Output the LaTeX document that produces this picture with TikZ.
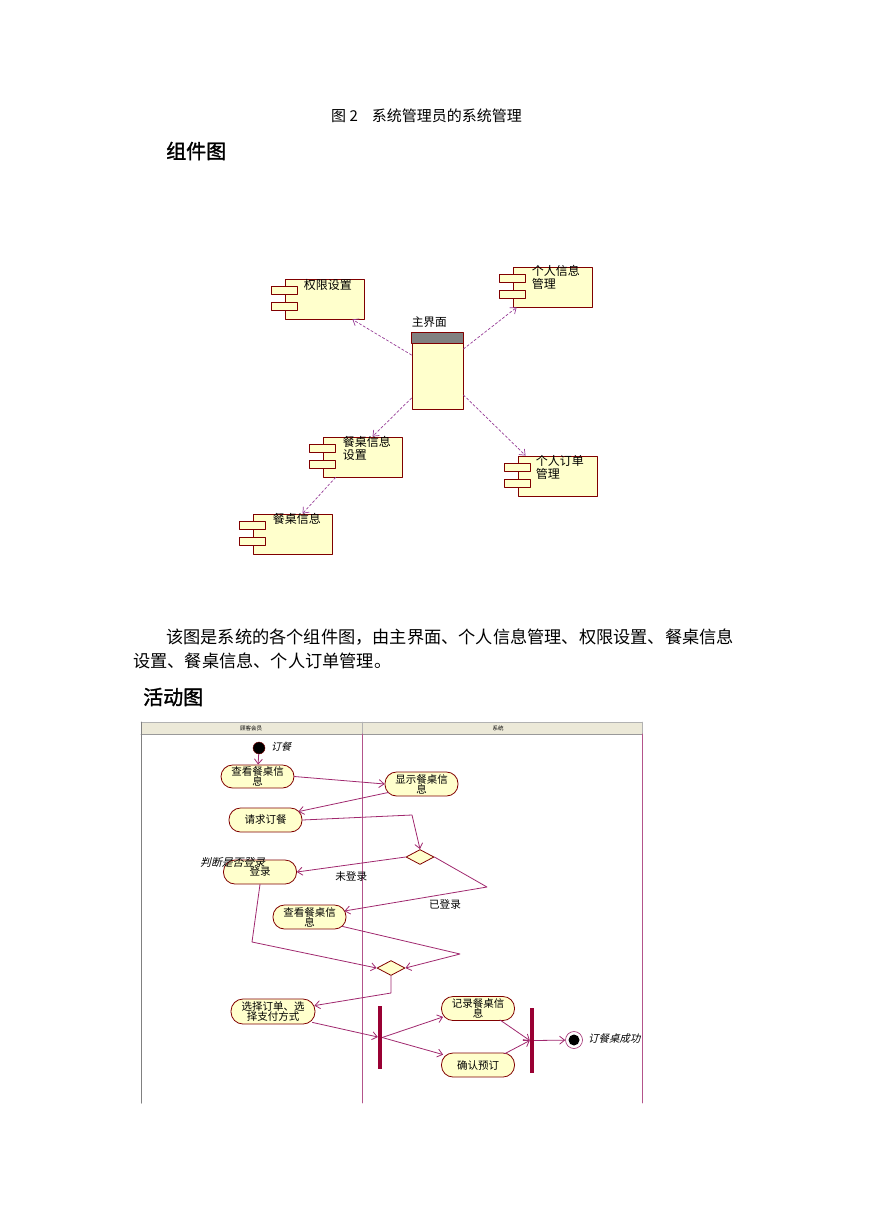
\documentclass[tikz,border=0pt]{standalone}
\usepackage{fontspec}
\setmainfont{Noto Sans CJK SC}
\newfontfamily\headfont[FakeBold=1.5]{Noto Sans CJK SC}
\newfontfamily\slantfont[FakeSlant=0.25]{Noto Sans CJK SC}
\usetikzlibrary{arrows.meta,shapes.geometric}
\definecolor{boxfill}{RGB}{255,255,204}
\definecolor{boxline}{RGB}{128,0,0}
\definecolor{flow}{RGB}{160,40,110}
\definecolor{depcol}{RGB}{150,60,150}
\definecolor{barred}{RGB}{153,0,51}
\definecolor{lanehead}{RGB}{236,233,216}
\begin{document}
\begin{tikzpicture}[x=1pt, y=-1pt, line join=round, line cap=round, >={Straight Barb[length=5pt,width=8pt]},
  comp/.style={draw=boxline, fill=boxfill, line width=0.9pt, minimum width=79pt, minimum height=40pt, inner sep=0pt},
  port/.style={draw=boxline, fill=boxfill, line width=0.8pt, minimum width=26pt, minimum height=8pt, inner sep=0pt},
  ctext/.style={anchor=north west, inner sep=0pt, align=left, font=\fontsize{12}{13}\selectfont},
  depline/.style={->, draw=depcol, line width=0.7pt, dash pattern=on 2.5pt off 2pt},
  act/.style={draw=boxline, fill=boxfill, line width=0.8pt, rounded corners=11.5pt, minimum width=73pt, minimum height=24pt, inner sep=1pt, align=center, font=\fontsize{10.5}{10}\selectfont},
  choice/.style={diamond, draw=boxline, fill=boxfill, line width=0.8pt, aspect=1.9, minimum width=28pt, minimum height=15pt, inner sep=0pt},
  bar/.style={fill=barred, minimum width=4pt, inner sep=0pt},
  flowline/.style={->, draw=flow, line width=0.8pt},
  note/.style={inner sep=0pt, font=\slantfont\fontsize{10}{10}\selectfont}]
\useasboundingbox (0,0) rectangle (869,1228);
% text of the page
\node[anchor=west, inner sep=0pt, font=\fontsize{15}{15}\selectfont] (cap) at (331,116) {图 2\hspace{14pt}系统管理员的系统管理};
\node[anchor=west, inner sep=0pt, font=\headfont\fontsize{20}{20}\selectfont] (head1) at (166,151) {组件图};
\node[anchor=west, inner sep=0pt, font=\fontsize{17.2}{17.2}\selectfont] (para1) at (166,637) {该图是系统的各个组件图，由主界面、个人信息管理、权限设置、餐桌信息};
\node[anchor=west, inner sep=0pt, font=\fontsize{17.2}{17.2}\selectfont] (para2) at (133,661) {设置、餐桌信息、个人订单管理。};
\node[anchor=west, inner sep=0pt, font=\headfont\fontsize{20}{20}\selectfont] (head2) at (143,697) {活动图};
% component diagram
\node[comp] (perm) at (324.5,299) {};
\node[comp] (info) at (552.5,287) {};
\node[comp] (tset) at (362.5,457) {};
\node[comp] (order) at (557.5,476) {};
\node[comp] (tinfo) at (292.5,534) {};
\foreach \c in {perm,info,tset,order,tinfo} {
  \node[port] (\c-p1) at ([yshift=-12pt]\c.north west) {};
  \node[port] (\c-p2) at ([yshift=-28pt]\c.north west) {};
}
\node[ctext] (perm-t) at ([xshift=19pt,yshift=-1pt]perm.north west) {权限设置};
\node[ctext] (info-t) at ([xshift=19pt,yshift=1pt]info.north west) {个人信息\\管理};
\node[ctext] (tset-t) at ([xshift=20pt]tset.north west) {餐桌信息\\设置};
\node[ctext] (order-t) at ([xshift=18pt]order.north west) {个人订单\\管理};
\node[ctext] (tinfo-t) at ([xshift=20pt]tinfo.north west) {餐桌信息};
\node[draw=boxline, fill=boxfill, line width=0.9pt, minimum width=51pt, minimum height=76pt, inner sep=0pt] (main) at (437.5,371) {};
\draw[boxline, line width=0.9pt, fill=gray] (main.north west) rectangle ([yshift=-11pt]main.north east);
\node[anchor=south west, inner sep=0pt, font=\fontsize{11.7}{12}\selectfont] (main-t) at ([yshift=5pt]main.north west) {主界面};
\draw[depline] ([yshift=16pt]main.west) -- ([xshift=-12pt]perm.south east);
\draw[depline] ([yshift=22pt]main.east) -- ([xshift=4pt]info.south west);
\draw[depline] ([yshift=-27pt]main.west) -- ([xshift=50pt]tset.north west);
\draw[depline] ([yshift=-24pt]main.east) -- ([xshift=8pt]order.north west);
\draw[depline] ([xshift=13pt]tset.south west) -- ([xshift=50pt]tinfo.north west);
% activity diagram: swimlanes
\fill[lanehead] (141,722) rectangle (642,734);
\draw[gray!80, line width=0.8pt] (141,734) -- (642,734);
\draw[gray!60] (141,722) -- (642,722) (362,722) -- (362,734) (642,722) -- (642,734);
\draw[gray, line width=1pt] (141,722) -- (141,1103);
\draw[flow!80, line width=0.7pt] (362,734) -- (362,1103) (642,734) -- (642,1103);
\node[inner sep=0pt, font=\fontsize{5.5}{5.5}\selectfont] (lane1) at (251,728) {顾客会员};
\node[inner sep=0pt, font=\fontsize{5.5}{5.5}\selectfont] (lane2) at (498,728) {系统};
% activity diagram: nodes
\node[circle, fill=black, draw=boxline, minimum size=12pt, inner sep=0pt] (start) at (259,748) {};
\node[note, anchor=west] (start-l) at (271,747) {订餐};
\node[act, minimum height=23pt] (a1) at (257.5,776.5) {查看餐桌信\\息};
\node[act] (a2) at (421.5,784) {显示餐桌信\\息};
\node[act] (a3) at (265.5,820) {请求订餐};
\node[choice] (d1) at (420,857) {};
\node[act] (a4) at (260,872) {登录};
\node[note, anchor=west, font=\slantfont\fontsize{10.8}{10.8}\selectfont] (a4-l) at (200,862) {判断是否登录};
\node[act] (a5) at (309.5,917) {查看餐桌信\\息};
\node[choice] (d2) at (391,968) {};
\node[act, minimum width=84pt, minimum height=25pt, rounded corners=12pt] (a6) at (273,1011.5) {选择订单、选\\择支付方式};
\node[bar, minimum height=63pt] (fork) at (380,1037.5) {};
\node[act] (a7) at (478,1008.5) {记录餐桌信\\息};
\node[act] (a8) at (478,1065) {确认预订};
\node[bar, minimum height=65pt] (join) at (532,1040.5) {};
\node[circle, draw=flow, fill=white, line width=0.6pt, minimum size=17pt, inner sep=0pt] (fin) at (574,1040) {};
\node[circle, fill=black, minimum size=11pt, inner sep=0pt] (fin-in) at (fin) {};
\node[note, anchor=west, font=\slantfont\fontsize{10.4}{10.4}\selectfont] (fin-l) at (588,1039) {订餐桌成功};
% bends
\path
  (412,815) coordinate (k1)
  (487,887) coordinate (k2)
  (252,942) coordinate (k3)
  (460,954) coordinate (k4)
  (391,993) coordinate (k5)
  ;
% activity diagram: flows
\draw[flowline] (start) -- (a1);
\draw[flowline] (a1.east) -- (a2.west);
\draw[flowline] ([xshift=4pt,yshift=4pt]a2.south west) -- ([xshift=-4pt,yshift=-4pt]a3.north east);
\draw[flowline] (a3.east) -- (k1) -- (d1.north);
\draw[flowline] (d1.west) -- (a4.east) node[pos=0.5, below=7pt, font=\fontsize{10.6}{10.6}\selectfont, inner sep=0pt] (no-l) {未登录};
\draw[flowline] (d1.east) -- (k2) -- ([xshift=-2pt,yshift=6pt]a5.east);
\node[inner sep=0pt, font=\fontsize{10.6}{10.6}\selectfont] (yes-l) at (445,904) {已登录};
\draw[flowline] (a4.south) -- (k3) -- (d2.west);
\draw[flowline] ([xshift=-4pt,yshift=3pt]a5.south east) -- (k4) -- (d2.east);
\draw[flowline] (d2.south) -- (k5) -- ([xshift=-1pt,yshift=-7pt]a6.north east);
\draw[flowline] ([xshift=-3pt,yshift=2pt]a6.south east) -- (fork);
\draw[flowline] (fork.east) -- ([xshift=2pt,yshift=4pt]a7.south west);
\draw[flowline] (fork.east) -- ([xshift=2pt,yshift=-2pt]a8.north west);
\draw[flowline] ([xshift=-15pt,yshift=1pt]a7.south east) -- (join.west);
\draw[flowline] ([xshift=-10pt,yshift=-1pt]a8.north east) -- (join.west);
\draw[flowline] (join.east) -- (fin);
\end{tikzpicture}
\end{document}
